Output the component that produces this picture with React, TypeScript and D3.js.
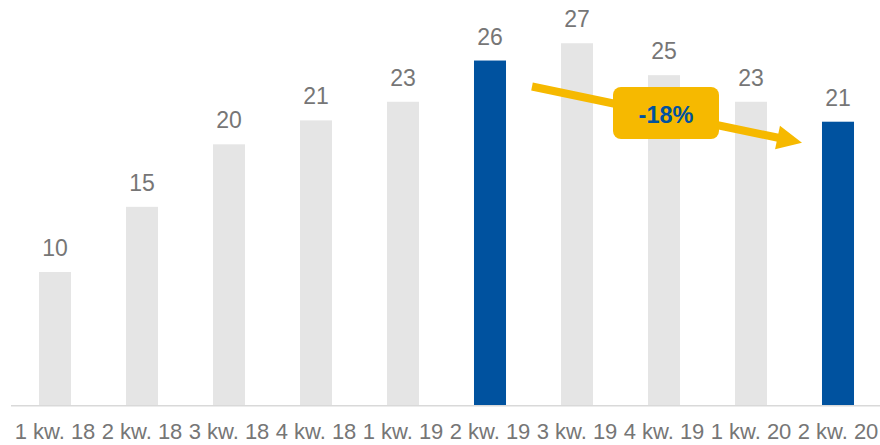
import React from "react";
import * as d3 from "d3";

const categories = ["1 kw. 18", "2 kw. 18", "3 kw. 18", "4 kw. 18", "1 kw. 19", "2 kw. 19", "3 kw. 19", "4 kw. 19", "1 kw. 20", "2 kw. 20"];
const values = [10, 14.9, 19.6, 21.4, 22.8, 25.9, 27.2, 24.8, 22.8, 21.3];
const labels = ["10", "15", "20", "21", "23", "26", "27", "25", "23", "21"];
const highlighted = ["2 kw. 19", "2 kw. 20"];
const changeLabel = "-18%";

const W = 880;
const H = 445;
const GREY = "#e5e5e5";
const BLUE = "#00529f";
const TEXT = "#767676";
const YELLOW = "#f6b900";
const FONT = "Arial, 'Liberation Sans', Helvetica, sans-serif";

export default function App() {
  const x = d3.scaleBand<string>().domain(categories).range([11.5, 881.5]).paddingInner(0.632).paddingOuter(0.316);
  const y = d3.scaleLinear().domain([0, 30]).range([405, 6]);
  const bw = x.bandwidth();

  // arrow annotation anchored to the two highlighted bars
  const x6 = x("2 kw. 19")!;
  const x10 = x("2 kw. 20")!;
  const sx = x6 + bw + 26;
  const sy = y(values[5]) + 26;
  const tx = x10 - 20;
  const ty = y(values[9]) + 21;
  const ang = Math.atan2(ty - sy, tx - sx);
  const headLen = 25;
  const headHalf = 12;
  const bxm = tx - headLen * Math.cos(ang);
  const bym = ty - headLen * Math.sin(ang);
  const px = -Math.sin(ang);
  const py = Math.cos(ang);
  const head = [
    [tx, ty],
    [bxm + px * headHalf, bym + py * headHalf],
    [bxm - px * headHalf, bym - py * headHalf],
  ];
  const boxX = 613;
  const boxY = 87;
  const boxW = 106;
  const boxH = 52;

  return (
    <svg width={W} height={H} style={{ position: "absolute", left: 0, top: 0 }} fontFamily={FONT}>
      <rect x={0} y={0} width={W} height={H} fill="#fff" />
      {categories.map((c, i) => (
        <rect
          key={c}
          x={x(c)}
          y={y(values[i])}
          width={bw}
          height={y(0) - y(values[i])}
          fill={highlighted.includes(c) ? BLUE : GREY}
        />
      ))}
      <line x1={11} x2={880} y1={405.8} y2={405.8} stroke="#d9d9d9" strokeWidth={1.5} />
      {categories.map((c, i) => (
        <text key={"v" + c} x={x(c)! + bw / 2} y={y(values[i]) - 16} textAnchor="middle" fontSize={23} fill={TEXT}>
          {labels[i]}
        </text>
      ))}
      {categories.map((c) => (
        <text key={"c" + c} x={x(c)! + bw / 2} y={439} textAnchor="middle" fontSize={22} fill={TEXT}>
          {c}
        </text>
      ))}
      <line x1={sx} y1={sy} x2={bxm + 2 * Math.cos(ang)} y2={bym + 2 * Math.sin(ang)} stroke={YELLOW} strokeWidth={8} />
      <polygon points={head.map((p) => p.join(",")).join(" ")} fill={YELLOW} />
      <rect x={boxX} y={boxY} width={boxW} height={boxH} rx={8} ry={8} fill={YELLOW} />
      <text x={boxX + boxW / 2} y={122.5} textAnchor="middle" fontSize={23.5} fontWeight="bold" fill={BLUE}>
        {changeLabel}
      </text>
    </svg>
  );
}
